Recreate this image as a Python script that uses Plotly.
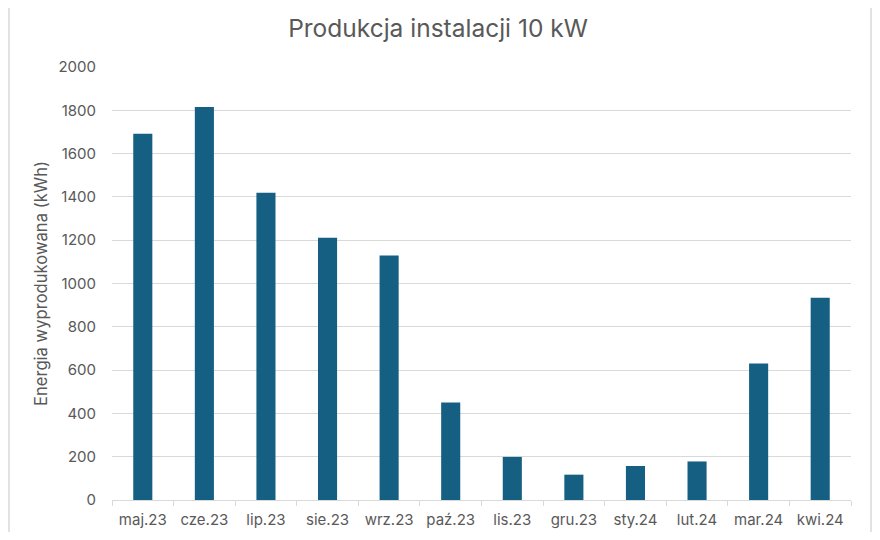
import plotly.graph_objects as go

months = ["maj.23", "cze.23", "lip.23", "sie.23", "wrz.23", "paź.23",
          "lis.23", "gru.23", "sty.24", "lut.24", "mar.24", "kwi.24"]
energy_kwh = [1692, 1815, 1419, 1211, 1129, 450, 199, 117, 157, 178, 630, 934]

title_text = "Produkcja instalacji 10 kW"
y_title = "Energia wyprodukowana (kWh)"
y_ticks = [0, 200, 400, 600, 800, 1000, 1200, 1400, 1600, 1800, 2000]

BAR = "#156082"
TXT = "#595959"
GRID = "#D9D9D9"
FONT = "Inter, Open Sans, Liberation Sans, sans-serif"

fig = go.Figure(go.Bar(x=months, y=energy_kwh, marker=dict(color=BAR, line=dict(width=0))))

# page places the figure at (8, 8)
W, H = 864, 524
ml, mt = 104, 59
pw, ph = 739, 432.6
mr = W - ml - pw
mb = H - mt - ph

fig.update_layout(
    width=W, height=H,
    margin=dict(l=ml, r=mr, t=mt, b=mb, autoexpand=False),
    paper_bgcolor="white", plot_bgcolor="white",
    bargap=0.69,
    showlegend=False,
    font=dict(family=FONT, color=TXT, size=15),
    title=dict(text=title_text, x=430 / W, xanchor="center", xref="container",
               y=1 - 20 / H, yanchor="middle", yref="container",
               font=dict(size=24.5, color=TXT, family=FONT)),
    xaxis=dict(type="category", showgrid=False, showline=True, linecolor=GRID, linewidth=1,
               ticks="outside", tickson="boundaries", ticklen=5, tickcolor=GRID,
               ticklabelstandoff=6,
               tickfont=dict(size=15, color=TXT), fixedrange=True),
    yaxis=dict(range=[0, 2000], tickvals=y_ticks, showgrid=True, gridcolor=GRID, gridwidth=1,
               zeroline=False, showline=False, ticks="", ticklabelstandoff=15,
               tickfont=dict(size=15, color=TXT),
               title=dict(text=y_title, font=dict(size=16.6, color=TXT), standoff=6)),
)

# light chart-area border (left edge of the figure, right edge near the window)
fig.add_shape(type="rect", xref="paper", yref="paper",
              x0=(1 - ml) / pw, x1=(863 - ml) / pw,
              y0=-(mb + 10) / ph, y1=1 + (mt + 10) / ph,
              line=dict(color=GRID, width=1.5), fillcolor="rgba(0,0,0,0)", layer="below")

fig.write_html("out.html")
